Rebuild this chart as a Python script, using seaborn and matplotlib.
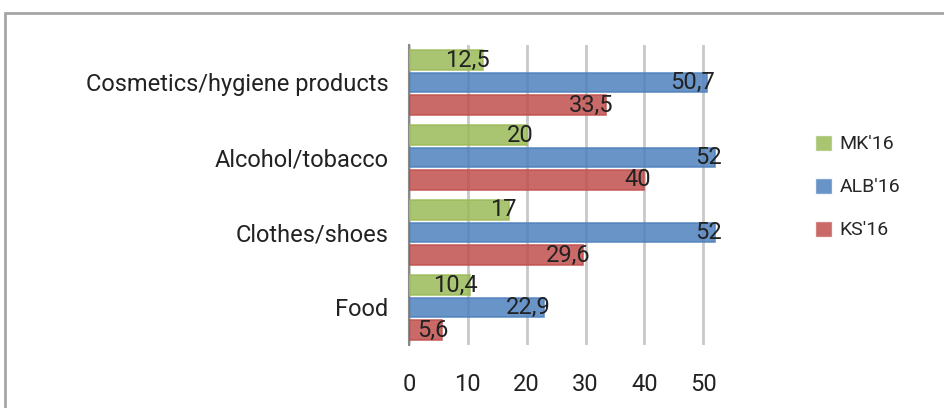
import seaborn as sns
import matplotlib.pyplot as plt
import pandas as pd
from matplotlib.patches import Rectangle

categories = ["Cosmetics/hygiene products", "Alcohol/tobacco", "Clothes/shoes", "Food"]
series = ["MK'16", "ALB'16", "KS'16"]
mk16 = [12.5, 20, 17, 10.4]
alb16 = [50.7, 52, 52, 22.9]
ks16 = [33.5, 40, 29.6, 5.6]
x_ticks = [0, 10, 20, 30, 40, 50]

colors = ["#9BBB59", "#4F81BD", "#C0504D"]

rows = []
for name, vals in zip(series, [mk16, alb16, ks16]):
    for cat, v in zip(categories, vals):
        rows.append({"category": cat, "series": name, "value": v})
df = pd.DataFrame(rows)

sns.set_style("white")
plt.rcParams["font.family"] = ["Roboto", "DejaVu Sans"]

fig = plt.figure(figsize=(9.45, 4.08), dpi=100)
ax = fig.add_axes([409 / 945, 1 - 345 / 408, 312 / 945, 300 / 408])

sns.barplot(data=df, y="category", x="value", hue="series", order=categories,
            hue_order=series, palette=colors, saturation=1, orient="h",
            width=0.9, gap=0.15, alpha=0.85, ax=ax, zorder=3)

# darker edges in base colour
for cont, c in zip(ax.containers, colors):
    for p in cont:
        p.set_edgecolor(c)
        p.set_linewidth(1.2)

ax.set_xlim(0, 53)
ax.set_xticks(x_ticks)
ax.set_xlabel("")
ax.set_ylabel("")
ax.grid(axis="x", color="#c8c8c8", linewidth=2, zorder=0)
ax.set_axisbelow(True)
for s in ["top", "right", "bottom"]:
    ax.spines[s].set_visible(False)
ax.spines["left"].set_color("#8a8a8a")
ax.spines["left"].set_linewidth(1.5)
ax.tick_params(axis="both", length=0, colors="#222222")
ax.tick_params(axis="x", pad=20, labelsize=17)
ax.tick_params(axis="y", pad=15, labelsize=17)

# data labels with comma decimals
for cont, vals in zip(ax.containers, [mk16, alb16, ks16]):
    for p, v in zip(cont, vals):
        txt = ("%g" % v).replace(".", ",")
        ax.annotate(txt, (p.get_width(), p.get_y() + p.get_height() / 2),
                    xytext=(7, 0), textcoords="offset pixels",
                    ha="right", va="center", fontsize=17, color="#222222", zorder=5)

handles, labels = ax.get_legend_handles_labels()
ax.legend(handles, labels, loc="center left", bbox_to_anchor=(815 / 945, 1 - 187 / 408),
          bbox_transform=fig.transFigure, frameon=False, fontsize=14,
          handlelength=0.9, handleheight=0.9, labelspacing=1.25,
          handletextpad=0.35, borderpad=0, borderaxespad=0)

# outer frame of the chart
fig.patches.append(Rectangle((5 / 945, -0.1), 1.0, 1 - 13 / 408 + 0.1,
                             transform=fig.transFigure, fill=False,
                             edgecolor="#a6a6a6", linewidth=2))

fig.savefig("out.png", dpi=100)
